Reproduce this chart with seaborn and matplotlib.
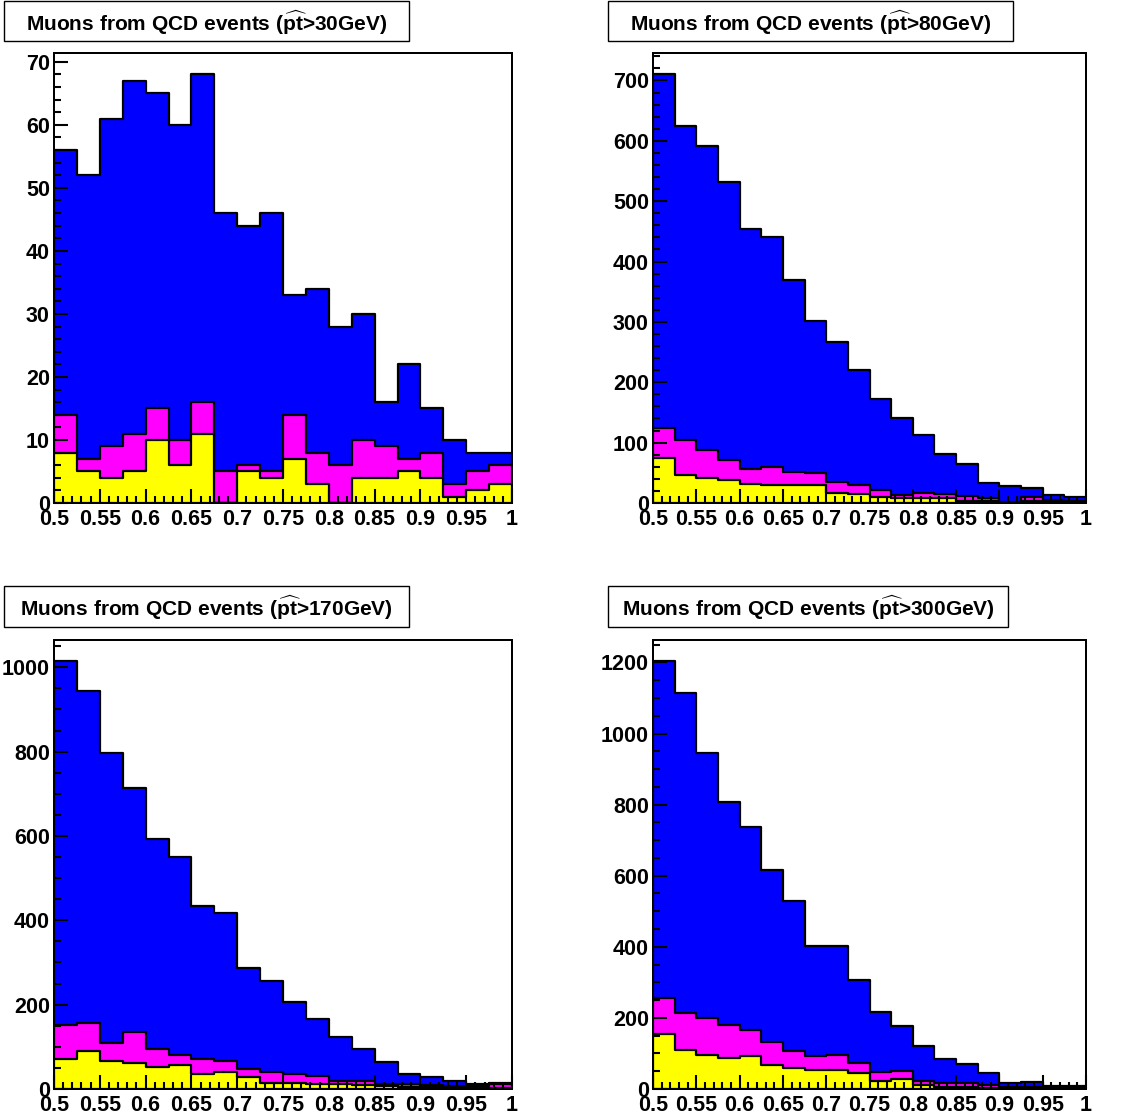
import seaborn as sns
import matplotlib.pyplot as plt
import numpy as np
from matplotlib.patches import Rectangle
from matplotlib.ticker import MultipleLocator, FuncFormatter

# ------------------------------
# 1. Histogram contents (20 bins, 0.5 .. 1.0)
# ------------------------------
n_bins = 20
x_range = (0.5, 1.0)
bin_centers = np.linspace(0.5125, 0.9875, n_bins)

titles = ["30", "80", "170", "300"]

blue_30 = [56, 52, 61, 67, 65, 60, 68, 46, 44, 46, 33, 34, 28, 30, 16, 22, 15, 10, 8, 8]
magenta_30 = [14, 7, 9, 11, 15, 10, 16, 5, 6, 5, 14, 8, 6, 10, 9, 7, 8, 3, 5, 6]
yellow_30 = [8, 5, 4, 5, 10, 6, 11, 0, 5, 4, 7, 3, 0, 4, 4, 5, 4, 1, 2, 3]

blue_80 = [710, 625, 592, 531, 454, 440, 369, 301, 266, 220, 172, 141, 113, 82, 64, 33, 28, 25, 14, 10]
magenta_80 = [124, 104, 88, 72, 56, 60, 52, 50, 34, 29, 21, 14, 17, 15, 11, 8, 1, 10, 5, 4]
yellow_80 = [75, 47, 42, 38, 32, 30, 30, 29, 17, 15, 10, 8, 8, 8, 3, 3, 0, 3, 1, 1]

blue_170 = [1014, 944, 796, 714, 593, 550, 435, 418, 287, 257, 207, 167, 123, 95, 64, 35, 28, 18, 13, 14]
magenta_170 = [151, 156, 110, 134, 95, 81, 72, 67, 48, 40, 35, 30, 20, 18, 13, 12, 10, 8, 8, 11]
yellow_170 = [71, 91, 67, 62, 51, 57, 36, 40, 28, 14, 14, 12, 11, 9, 6, 5, 4, 3, 2, 2]

blue_300 = [1203, 1113, 945, 807, 738, 616, 528, 402, 401, 307, 216, 177, 121, 84, 70, 45, 18, 21, 9, 8]
magenta_300 = [256, 213, 199, 180, 165, 131, 107, 92, 96, 73, 48, 52, 23, 18, 18, 12, 7, 7, 6, 6]
yellow_300 = [155, 110, 97, 88, 93, 68, 59, 53, 53, 45, 23, 28, 12, 7, 7, 3, 2, 2, 1, 2]

panels = [
    (titles[0], blue_30, magenta_30, yellow_30, 10, 2),
    (titles[1], blue_80, magenta_80, yellow_80, 100, 20),
    (titles[2], blue_170, magenta_170, yellow_170, 200, 50),
    (titles[3], blue_300, magenta_300, yellow_300, 200, 50),
]

# ------------------------------
# 2. Style (ROOT-like: ticks inside, bold Helvetica-ish text)
# ------------------------------
sns.set_theme(style="ticks", rc={
    "xtick.direction": "in",
    "ytick.direction": "in",
    "xtick.color": "black",
    "ytick.color": "black",
    "text.color": "black",
    "axes.edgecolor": "black",
})
plt.rcParams["font.family"] = ["Liberation Sans", "DejaVu Sans"]
plt.rcParams["font.weight"] = "bold"
plt.rcParams["mathtext.fontset"] = "custom"
plt.rcParams["mathtext.rm"] = "Liberation Sans:bold"
plt.rcParams["mathtext.it"] = "Liberation Sans:bold"
plt.rcParams["mathtext.bf"] = "Liberation Sans:bold"

W, H = 1131, 1116
fig = plt.figure(figsize=(W / 100, H / 100), dpi=100)

# pixel boxes: (left, top, right, bottom) for axes, title boxes
axes_px = [(54, 53, 512, 503), (653, 53, 1086, 503),
           (54, 640, 512, 1089), (653, 640, 1086, 1089)]
title_px = [(4, 1, 409, 41), (608, 1, 1013, 41),
            (4, 586, 409, 627), (608, 586, 1008, 627)]

colors = ["#0000ff", "#ff00ff", "#ffff00"]

for (label, blue, magenta, yellow, major, minor), (l, t, r, b), (tl, tt, tr, tb) in zip(panels, axes_px, title_px):
    rect = [l / W, 1 - b / H, (r - l) / W, (b - t) / H]
    ax = fig.add_axes(rect)
    for vals, c in zip([blue, magenta, yellow], colors):
        sns.histplot(x=bin_centers, weights=np.asarray(vals, dtype=float),
                     bins=n_bins, binrange=x_range, element="step",
                     fill=True, color=c, alpha=1, edgecolor="black",
                     linewidth=1.6, ax=ax)
    ax.set_xlim(*x_range)
    ax.set_ylim(0, 1.05 * max(blue))
    ax.set_xlabel("")
    ax.set_ylabel("")
    ax.tick_params(which="both", left=False, bottom=False, top=False,
                   right=False, labelleft=False, labelbottom=False)

    # transparent overlay axes that carries ticks and frame on top of fills
    ov = fig.add_axes(rect, sharex=ax, sharey=ax, zorder=ax.get_zorder() + 1)
    ov.patch.set_alpha(0)
    ov.xaxis.set_major_locator(MultipleLocator(0.05))
    ov.xaxis.set_minor_locator(MultipleLocator(0.01))
    ov.yaxis.set_major_locator(MultipleLocator(major))
    ov.yaxis.set_minor_locator(MultipleLocator(minor))
    ov.xaxis.set_major_formatter(FuncFormatter(lambda v, p: f"{v:g}"))
    ov.tick_params(which="both", direction="in", bottom=True, left=True,
                   top=False, right=False, labelbottom=True, labelleft=True,
                   width=1.5, colors="black", labelsize=15.5, pad=3)
    ov.tick_params(which="major", length=10)
    ov.tick_params(which="minor", length=5)
    ov.tick_params(axis="x", which="major", pad=4)
    for lab in ov.get_xticklabels() + ov.get_yticklabels():
        lab.set_fontweight("bold")
    for a in (ax, ov):
        for s in a.spines.values():
            s.set_visible(True)
            s.set_linewidth(1.4)
            s.set_color("black")

    # title box
    fig.add_artist(Rectangle((tl / W, 1 - tb / H), (tr - tl) / W, (tb - tt) / H,
                             transform=fig.transFigure, facecolor="white",
                             edgecolor="black", linewidth=1))
    fig.text((tl + tr) / 2 / W, 1 - (tt + 30) / H,
             "Muons from QCD events ($\\widehat{\\mathrm{pt}}$>" + label + "GeV)",
             ha="center", va="baseline", fontsize=15, fontweight="bold",
             color="black")

fig.savefig("out.png", dpi=100)
plt.close(fig)
